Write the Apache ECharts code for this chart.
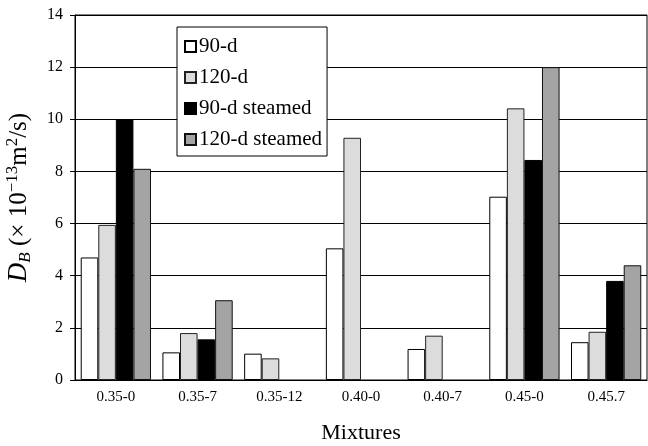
<!DOCTYPE html>
<html>
<head>
<meta charset="utf-8">
<script src="https://cdn.jsdelivr.net/npm/echarts@6/dist/echarts.min.js"></script>
<style>html,body{margin:0;padding:0;background:#fff;}#c{width:648px;height:446px;}</style>
</head>
<body>
<div id="c"></div>
<script>
const categories = ['0.35-0', '0.35-7', '0.35-12', '0.40-0', '0.40-7', '0.45-0', '0.45.7'];
const seriesNames = ['90-d', '120-d', '90-d steamed', '120-d steamed'];
const d90 = [4.7, 1.06, 1.01, 5.05, 1.19, 7.03, 1.45];
const d120 = [5.95, 1.8, 0.83, 9.29, 1.7, 10.42, 1.85];
const d90s = [10.0, 1.56, null, null, null, 8.44, 3.8];
const d120s = [8.1, 3.06, null, null, null, 12.0, 4.4];
const yTicks = { min: 0, max: 14, interval: 2 };

const serif = 'Liberation Serif, Times New Roman, serif';
const styles = [
  { color: '#ffffff', borderColor: '#000', borderWidth: 1 },
  { color: '#dcdcdc', borderColor: '#222', borderWidth: 1 },
  { color: '#000000', borderColor: '#000', borderWidth: 1 },
  { color: '#a4a4a4', borderColor: '#111', borderWidth: 1 }
];
const dataSets = [d90, d120, d90s, d120s];

const chart = echarts.init(document.getElementById('c'), null, { renderer: 'canvas' });
chart.setOption({
  animation: false,
  backgroundColor: '#fff',
  grid: { left: 75, right: 1, top: 15, bottom: 66, show: true, borderColor: '#000', borderWidth: 1,
          containLabel: false, outerBoundsMode: 'none' },
  legend: {
    orient: 'vertical',
    left: 177,
    top: 27,
    data: seriesNames,
    icon: 'rect',
    itemWidth: 11,
    itemHeight: 11,
    itemGap: 10,
    padding: [9, 5, 6, 7],
    backgroundColor: '#fff',
    borderColor: '#000',
    borderWidth: 1,
    textStyle: { fontFamily: serif, fontSize: 21, color: '#000', padding: [0, 0, 0, -2] }
  },
  xAxis: {
    type: 'category',
    data: categories,
    axisLine: { lineStyle: { color: '#000', width: 1 } },
    axisTick: { show: false },
    axisLabel: { fontFamily: serif, fontSize: 15, color: '#000', margin: 10 },
    name: 'Mixtures',
    nameLocation: 'middle',
    nameGap: 42,
    nameTextStyle: { fontFamily: serif, fontSize: 22, color: '#000' }
  },
  yAxis: {
    type: 'value',
    min: yTicks.min,
    max: yTicks.max,
    interval: yTicks.interval,
    axisLine: { show: true, lineStyle: { color: '#000', width: 1 } },
    axisTick: { show: true, length: 5, lineStyle: { color: '#000' } },
    axisLabel: { fontFamily: serif, fontSize: 16, color: '#000', margin: 12 },
    splitLine: { show: true, lineStyle: { color: '#000', width: 1 } },
    name: '{i|D}{sub|B} (× 10{sup|−13}m{sup|2}/s)',
    nameLocation: 'middle',
    nameGap: 41,
    nameTextStyle: {
      fontFamily: serif, fontSize: 25, color: '#000',
      rich: {
        i: { fontFamily: serif, fontSize: 27, fontStyle: 'italic', color: '#000', lineHeight: 30, verticalAlign: 'middle' },
        sub: { fontFamily: serif, fontSize: 17, fontStyle: 'italic', color: '#000', verticalAlign: 'bottom', lineHeight: 30 },
        sup: { fontFamily: serif, fontSize: 17, color: '#000', verticalAlign: 'top', lineHeight: 30 }
      }
    }
  },
  series: seriesNames.map((n, k) => ({
    name: n,
    type: 'bar',
    data: dataSets[k],
    barGap: '0%',
    barCategoryGap: '14%',
    itemStyle: styles[k]
  }))
});
</script>
</body>
</html>
